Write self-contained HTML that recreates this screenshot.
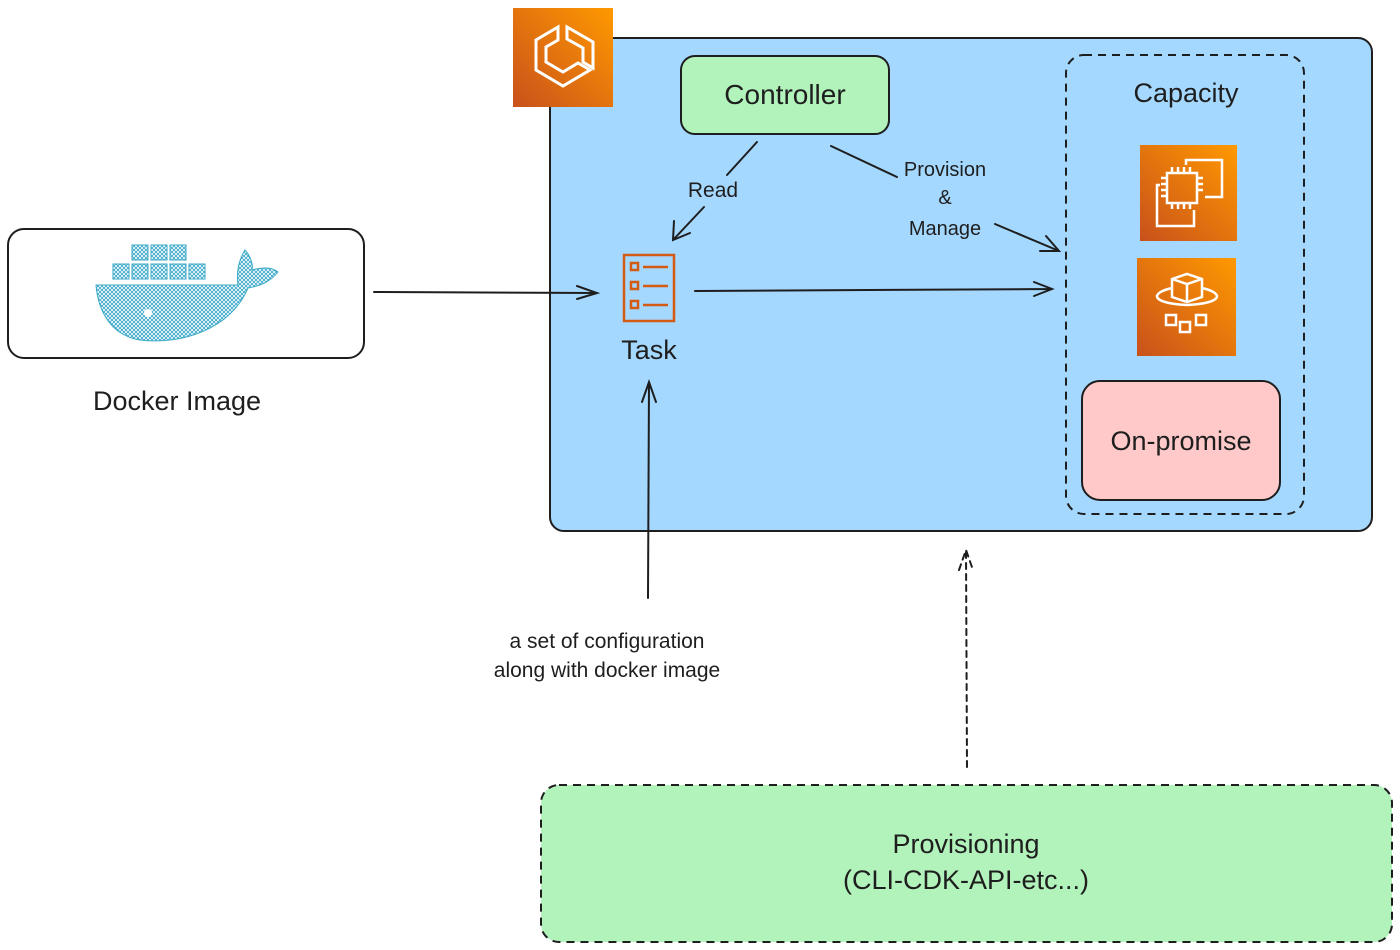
<!DOCTYPE html>
<html><head><meta charset="utf-8"><style>
html,body{margin:0;padding:0;background:#fff;width:1400px;height:950px;overflow:hidden}
text{font-family:"Comic Sans MS","Liberation Sans",sans-serif;fill:#1e1e1e}
</style></head><body>
<svg width="1400" height="950" viewBox="0 0 1400 950" xmlns="http://www.w3.org/2000/svg">
<defs>
<linearGradient id="og" x1="0" y1="1" x2="1" y2="0"><stop offset="0" stop-color="#c8511b"/><stop offset="1" stop-color="#ff9900"/></linearGradient>
<pattern id="hatch" width="4" height="4" patternUnits="userSpaceOnUse"><path d="M0 4L4 0M0 0L4 4" stroke="#3aa9c8" stroke-width="0.9"/></pattern>
</defs>
<!-- main blue box -->
<rect x="550" y="38" width="822" height="493" rx="14" fill="#a5d8ff" stroke="#1e1e1e" stroke-width="2"/>
<!-- ECS icon -->
<rect x="513" y="8" width="100" height="99" fill="url(#og)"/>
<g fill="none" stroke="#fff" stroke-width="3">
<path d="M558 27 L536 40 L536 70 L563 86 L590 70 L578 63 L563 72 L546 62 L546 47 L558 40 Z"/>
<path d="M567 27 L593 42 L593 68 L583 62 L583 48 L567 39 Z"/>
</g>
<!-- Controller -->
<rect x="681" y="56" width="208" height="78" rx="14" fill="#b2f2bb" stroke="#1e1e1e" stroke-width="2"/>
<text x="785" y="104" font-size="28" text-anchor="middle">Controller</text>
<!-- Capacity dashed -->
<rect x="1066" y="55" width="238" height="459" rx="18" fill="none" stroke="#1e1e1e" stroke-width="2" stroke-dasharray="8 6"/>
<text x="1186" y="102" font-size="27" text-anchor="middle">Capacity</text>
<!-- EC2 -->
<rect x="1140" y="145" width="97" height="96" fill="url(#og)"/>
<g fill="none" stroke="#fff" stroke-width="2.5">
<rect x="1167" y="173" width="30" height="30"/>
<path d="M1186 165 V160 H1222 V197 H1205 M1160 185 H1157 V226 H1194 V210"/>
<path d="M1172 167v6M1178 167v6M1184 167v6M1190 167v6M1172 203v6M1178 203v6M1184 203v6M1190 203v6M1161 178h6M1161 184h6M1161 190h6M1161 196h6M1197 178h6M1197 184h6M1197 190h6"/>
</g>
<!-- Fargate -->
<rect x="1137" y="258" width="99" height="98" fill="url(#og)"/>
<g fill="none" stroke="#fff" stroke-width="2.5">
<path d="M1172 279 L1187 274 L1202 279 L1202 297 L1187 302 L1172 297 Z M1172 279 L1187 284 L1202 279 M1187 284 V302"/>
<path d="M1172 288 C1150 293 1150 303 1187 305 C1224 303 1224 293 1202 288"/>
<rect x="1166" y="315" width="10" height="10"/><rect x="1180" y="322" width="10" height="10"/><rect x="1196" y="315" width="10" height="10"/>
</g>
<!-- On-promise -->
<rect x="1082" y="381" width="198" height="119" rx="18" fill="#ffc9c9" stroke="#1e1e1e" stroke-width="2"/>
<text x="1181" y="450" font-size="27" text-anchor="middle">On-promise</text>
<!-- Task icon -->
<g fill="none" stroke="#d45b12" stroke-width="2.5">
<rect x="624" y="255" width="50" height="66"/>
<rect x="631" y="263" width="7" height="7"/><rect x="631" y="282" width="7" height="7"/><rect x="631" y="301" width="7" height="7"/>
<path d="M643 267h25M643 286h25M643 305h25"/>
</g>
<text x="649" y="359" font-size="27" text-anchor="middle">Task</text>
<!-- Docker box -->
<rect x="8" y="229" width="356" height="129" rx="16" fill="#fff" stroke="#1e1e1e" stroke-width="2"/>
<g fill="url(#hatch)" stroke="#3aa9c8" stroke-width="1">
<rect x="132" y="245" width="16" height="15"/><rect x="151" y="245" width="16" height="15"/><rect x="170" y="245" width="16" height="15"/>
<rect x="113" y="264" width="16" height="15"/><rect x="132" y="264" width="16" height="15"/><rect x="151" y="264" width="16" height="15"/><rect x="170" y="264" width="16" height="15"/><rect x="189" y="264" width="16" height="15"/>
<path d="M96 285 H238 C236 270 240 258 245 250 C252 258 253 266 252 270 C262 267 272 267 278 272 C270 282 260 286 248 288 C230 330 180 345 140 340 C110 335 98 310 96 285 Z"/>
</g>
<circle cx="148" cy="313" r="4" fill="#fff"/>
<text x="177" y="410" font-size="27" text-anchor="middle">Docker Image</text>
<!-- arrows -->
<g fill="none" stroke="#1e1e1e" stroke-width="2" stroke-linecap="round">
<path d="M374 292 L597 293 M577 286 L597 293 L577 299"/>
<path d="M695 291 L1052 289 M1034 282 L1052 289 L1034 296"/>
<path d="M757 142 L727 175 M704 207 L673 240 M674 221 L673 240 L690 233"/>
<path d="M831 146 L897 177 M995 224 L1059 251 M1040 251 L1059 251 L1046 236"/>
<path d="M648 598 L649 382 M642 402 L649 382 L656 402"/>
<path d="M967 767 L966 550 M959 570 L966 550 L973 570" stroke-dasharray="6 5"/>
</g>
<text x="713" y="197" font-size="21" text-anchor="middle">Read</text>
<text x="945" y="176" font-size="20" text-anchor="middle">Provision</text>
<text x="945" y="204" font-size="20" text-anchor="middle">&amp;</text>
<text x="945" y="235" font-size="20" text-anchor="middle">Manage</text>
<text x="607" y="648" font-size="21" text-anchor="middle">a set of configuration</text>
<text x="607" y="677" font-size="21" text-anchor="middle">along with docker image</text>
<!-- Provisioning -->
<rect x="541" y="785" width="851" height="157" rx="18" fill="#b2f2bb" stroke="#1e1e1e" stroke-width="2" stroke-dasharray="8 6"/>
<text x="966" y="853" font-size="27" text-anchor="middle">Provisioning</text>
<text x="966" y="889" font-size="27" text-anchor="middle">(CLI-CDK-API-etc...)</text>
</svg>
</body></html>
